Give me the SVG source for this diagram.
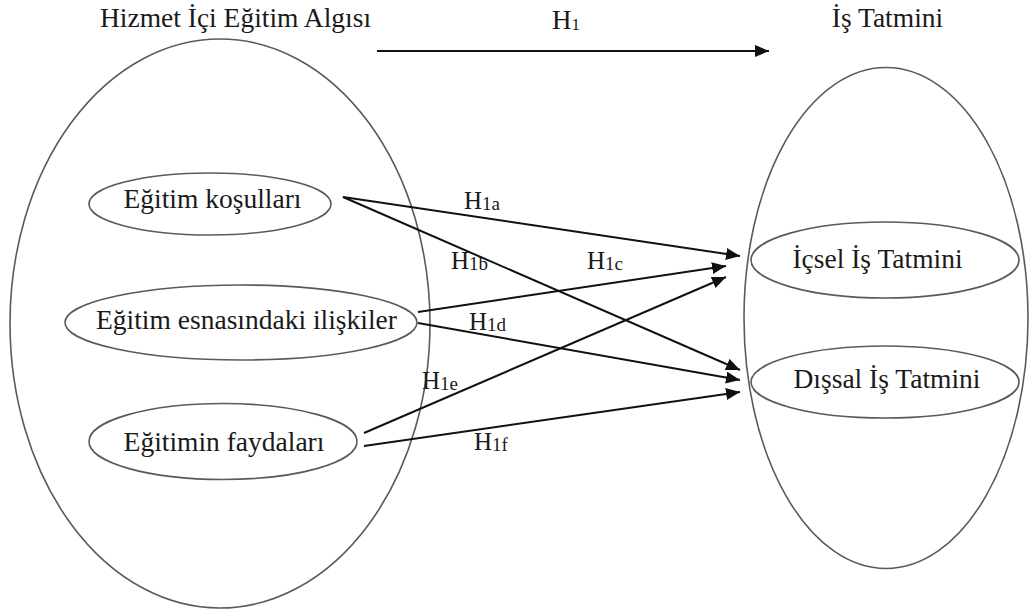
<svg xmlns="http://www.w3.org/2000/svg" width="1029" height="613" viewBox="0 0 1029 613">
<style>
.bg{fill:#ffffff}
.oval{fill:none;stroke:#5a5a5a;stroke-width:1.6}
.t{font-family:"Liberation Serif","Times New Roman",serif;font-size:27.5px;fill:#1a1a1a;text-anchor:middle}
.lbl{font-family:"Liberation Serif","Times New Roman",serif;font-size:25px;fill:#1a1a1a}
.sub{font-size:19px}
.conn{fill:none;stroke:#111111;stroke-width:2;marker-end:url(#ah)}
</style>
<defs>
<marker id="ah" viewBox="0 0 14 12" refX="14" refY="6" markerWidth="14" markerHeight="12" markerUnits="userSpaceOnUse" orient="auto">
<path d="M0,0 L14,6 L0,12 z" fill="#111111"/>
</marker>
</defs>
<rect class="bg" x="0" y="0" width="1029" height="613"/>

<g id="hizmet-ici-egitim-algisi">
<ellipse class="oval" cx="220" cy="323.5" rx="210" ry="284.5"/>
<text class="t" x="235.5" y="27">Hizmet İçi Eğitim  Algısı</text>
</g>
<g id="is-tatmini">
<ellipse class="oval" cx="886" cy="318" rx="142" ry="250.5"/>
<text class="t" x="887.5" y="27">İş Tatmini</text>
</g>
<g id="egitim-kosullari">
<ellipse class="oval" cx="210" cy="204" rx="121" ry="31"/>
<text class="t" x="212.5" y="208">Eğitim koşulları</text>
</g>
<g id="egitim-esnasindaki-iliskiler">
<ellipse class="oval" cx="241" cy="322.5" rx="176" ry="37.5"/>
<text class="t" x="246.5" y="329">Eğitim esnasındaki ilişkiler</text>
</g>
<g id="egitimin-faydalari">
<ellipse class="oval" cx="223" cy="441.5" rx="134" ry="38"/>
<text class="t" x="224" y="451">Eğitimin faydaları</text>
</g>
<g id="icsel-is-tatmini">
<ellipse class="oval" cx="885" cy="260" rx="134" ry="38"/>
<text class="t" x="877.5" y="268">İçsel İş Tatmini</text>
</g>
<g id="dissal-is-tatmini">
<ellipse class="oval" cx="885" cy="382" rx="134" ry="36"/>
<text class="t" x="887" y="388">Dışsal İş Tatmini</text>
</g>

<g id="connectors">
<line class="conn" x1="377" y1="51" x2="769" y2="51"/>
<line class="conn" x1="343" y1="197" x2="740" y2="256"/>
<line class="conn" x1="343" y1="197" x2="740" y2="370"/>
<line class="conn" x1="418" y1="312" x2="726" y2="266"/>
<line class="conn" x1="418" y1="323" x2="740" y2="380"/>
<line class="conn" x1="364" y1="433" x2="726" y2="277"/>
<line class="conn" x1="364" y1="446" x2="740" y2="392"/>
</g>

<g id="labels">
<text class="lbl" x="552" y="29" style="font-size:27px">H<tspan class="sub" dy="1" style="font-size:17px">1</tspan></text>
<text class="lbl" x="464" y="209">H<tspan class="sub" dy="1">1a</tspan></text>
<text class="lbl" x="451" y="269">H<tspan class="sub" dy="1">1b</tspan></text>
<text class="lbl" x="587" y="269">H<tspan class="sub" dy="1">1c</tspan></text>
<text class="lbl" x="469" y="330">H<tspan class="sub" dy="1">1d</tspan></text>
<text class="lbl" x="422" y="389">H<tspan class="sub" dy="1">1e</tspan></text>
<text class="lbl" x="474" y="450">H<tspan class="sub" dy="1">1f</tspan></text>
</g>
</svg>
